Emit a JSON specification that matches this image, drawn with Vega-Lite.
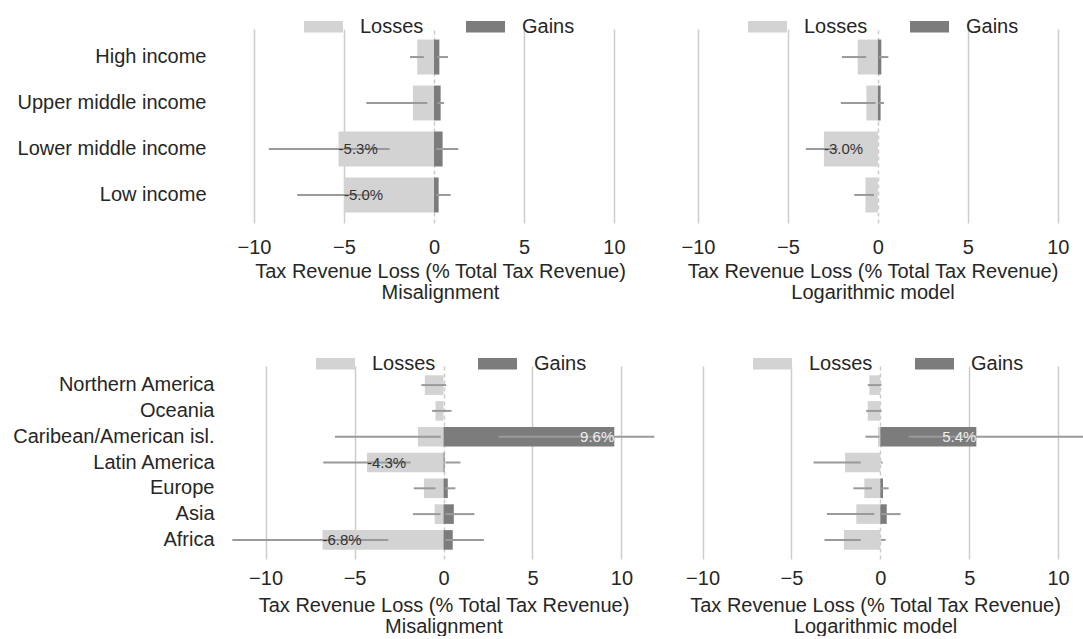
{
  "$schema": "https://vega.github.io/schema/vega-lite/v6.json",
  "padding": {"left": 12, "top": 7, "right": 0, "bottom": 0},
  "background": "white",
  "config": {
    "view": {"stroke": null},
    "font": "Liberation Sans",
    "axis": {"labelFont": "Liberation Sans", "titleFont": "Liberation Sans"},
    "legend": {"labelFont": "Liberation Sans"},
    "text": {"font": "Liberation Sans"}
  },
  "datasets": {
    "d": [
      {"panel": "inc_mis", "group": "High income", "type": "Losses", "value": -0.93, "lo": -1.33, "hi": -0.56, "label": null},
      {"panel": "inc_mis", "group": "High income", "type": "Gains", "value": 0.3, "lo": 0.19, "hi": 0.78, "label": null},
      {"panel": "inc_mis", "group": "Upper middle income", "type": "Losses", "value": -1.17, "lo": -3.76, "hi": -0.37, "label": null},
      {"panel": "inc_mis", "group": "Upper middle income", "type": "Gains", "value": 0.37, "lo": 0.19, "hi": 0.56, "label": null},
      {"panel": "inc_mis", "group": "Lower middle income", "type": "Losses", "value": -5.3, "lo": -9.18, "hi": -2.46, "label": "-5.3%"},
      {"panel": "inc_mis", "group": "Lower middle income", "type": "Gains", "value": 0.48, "lo": 0.13, "hi": 1.35, "label": null},
      {"panel": "inc_mis", "group": "Low income", "type": "Losses", "value": -5.0, "lo": -7.6, "hi": -3.6, "label": "-5.0%"},
      {"panel": "inc_mis", "group": "Low income", "type": "Gains", "value": 0.26, "lo": 0.13, "hi": 0.93, "label": null},
      {"panel": "inc_log", "group": "High income", "type": "Losses", "value": -1.12, "lo": -2.0, "hi": -0.65, "label": null},
      {"panel": "inc_log", "group": "High income", "type": "Gains", "value": 0.19, "lo": 0.06, "hi": 0.58, "label": null},
      {"panel": "inc_log", "group": "Upper middle income", "type": "Losses", "value": -0.64, "lo": -2.06, "hi": -0.13, "label": null},
      {"panel": "inc_log", "group": "Upper middle income", "type": "Gains", "value": 0.15, "lo": 0.04, "hi": 0.34, "label": null},
      {"panel": "inc_log", "group": "Lower middle income", "type": "Losses", "value": -3.0, "lo": -4.0, "hi": -2.2, "label": "-3.0%"},
      {"panel": "inc_log", "group": "Lower middle income", "type": "Gains", "value": 0, "lo": null, "hi": null, "label": null},
      {"panel": "inc_log", "group": "Low income", "type": "Losses", "value": -0.69, "lo": -1.31, "hi": -0.22, "label": null},
      {"panel": "inc_log", "group": "Low income", "type": "Gains", "value": 0, "lo": null, "hi": null, "label": null},
      {"panel": "reg_mis", "group": "Northern America", "type": "Losses", "value": -1.05, "lo": -1.24, "hi": 0.15, "label": null},
      {"panel": "reg_mis", "group": "Northern America", "type": "Gains", "value": 0, "lo": null, "hi": null, "label": null},
      {"panel": "reg_mis", "group": "Oceania", "type": "Losses", "value": -0.45, "lo": -0.64, "hi": 0.45, "label": null},
      {"panel": "reg_mis", "group": "Oceania", "type": "Gains", "value": 0, "lo": null, "hi": null, "label": null},
      {"panel": "reg_mis", "group": "Caribean/American isl.", "type": "Losses", "value": -1.44, "lo": -6.1, "hi": -0.15, "label": null},
      {"panel": "reg_mis", "group": "Caribean/American isl.", "type": "Gains", "value": 9.6, "lo": 3.1, "hi": 11.85, "label": "9.6%"},
      {"panel": "reg_mis", "group": "Latin America", "type": "Losses", "value": -4.3, "lo": -6.76, "hi": -1.85, "label": "-4.3%"},
      {"panel": "reg_mis", "group": "Latin America", "type": "Gains", "value": 0.06, "lo": 0.1, "hi": 0.95, "label": null},
      {"panel": "reg_mis", "group": "Europe", "type": "Losses", "value": -1.1, "lo": -1.67, "hi": -0.45, "label": null},
      {"panel": "reg_mis", "group": "Europe", "type": "Gains", "value": 0.24, "lo": 0.1, "hi": 0.67, "label": null},
      {"panel": "reg_mis", "group": "Asia", "type": "Losses", "value": -0.5, "lo": -1.72, "hi": -0.17, "label": null},
      {"panel": "reg_mis", "group": "Asia", "type": "Gains", "value": 0.58, "lo": 0.11, "hi": 1.74, "label": null},
      {"panel": "reg_mis", "group": "Africa", "type": "Losses", "value": -6.8, "lo": -11.87, "hi": -3.1, "label": "-6.8%"},
      {"panel": "reg_mis", "group": "Africa", "type": "Gains", "value": 0.52, "lo": 0.11, "hi": 2.27, "label": null},
      {"panel": "reg_log", "group": "Northern America", "type": "Losses", "value": -0.62, "lo": -0.71, "hi": 0.06, "label": null},
      {"panel": "reg_log", "group": "Northern America", "type": "Gains", "value": 0, "lo": null, "hi": null, "label": null},
      {"panel": "reg_log", "group": "Oceania", "type": "Losses", "value": -0.71, "lo": -0.8, "hi": 0.06, "label": null},
      {"panel": "reg_log", "group": "Oceania", "type": "Gains", "value": 0, "lo": null, "hi": null, "label": null},
      {"panel": "reg_log", "group": "Caribean/American isl.", "type": "Losses", "value": -0.13, "lo": -0.84, "hi": -0.05, "label": null},
      {"panel": "reg_log", "group": "Caribean/American isl.", "type": "Gains", "value": 5.4, "lo": 1.6, "hi": 13.0, "label": "5.4%"},
      {"panel": "reg_log", "group": "Latin America", "type": "Losses", "value": -1.98, "lo": -3.76, "hi": -1.1, "label": null},
      {"panel": "reg_log", "group": "Latin America", "type": "Gains", "value": 0, "lo": 0.02, "hi": 0.13, "label": null},
      {"panel": "reg_log", "group": "Europe", "type": "Losses", "value": -0.9, "lo": -1.52, "hi": -0.47, "label": null},
      {"panel": "reg_log", "group": "Europe", "type": "Gains", "value": 0.15, "lo": 0.03, "hi": 0.47, "label": null},
      {"panel": "reg_log", "group": "Asia", "type": "Losses", "value": -1.35, "lo": -3.0, "hi": -0.34, "label": null},
      {"panel": "reg_log", "group": "Asia", "type": "Gains", "value": 0.36, "lo": 0.06, "hi": 1.14, "label": null},
      {"panel": "reg_log", "group": "Africa", "type": "Losses", "value": -2.05, "lo": -3.14, "hi": -1.1, "label": null},
      {"panel": "reg_log", "group": "Africa", "type": "Gains", "value": 0, "lo": 0.02, "hi": 0.3, "label": null}
    ]
  },
  "resolve": {"scale": {"x": "independent", "y": "independent", "color": "independent"}, "legend": {"color": "independent"}, "axis": {"x": "independent", "y": "independent"}},
  "spacing": 42,
  "vconcat": [
    {
      "spacing": 12,
      "resolve": {"scale": {"x": "independent", "y": "independent", "color": "independent"}, "legend": {"color": "independent"}, "axis": {"x": "independent", "y": "independent"}},
      "hconcat": [
        {
          "width": 420, "height": 194,
          "data": {"name": "d"},
          "transform": [{"filter": "datum.panel === 'inc_mis'"}],
          "encoding": {
            "y": {"field": "group", "type": "nominal", "sort": ["High income", "Upper middle income", "Lower middle income", "Low income"],
                  "scale": {"domain": ["High income", "Upper middle income", "Lower middle income", "Low income"], "paddingInner": 0.24, "paddingOuter": 0.23},
                  "axis": {"title": null, "labelFontSize": 20, "labelColor": "#262626", "labelLimit": 0, "ticks": false, "domain": false, "grid": false, "labelPadding": 24}}
          },
          "layer": [
            {"mark": {"type": "bar"},
             "encoding": {
               "x": {"field": "value", "type": "quantitative", "stack": null,
                     "scale": {"domain": [-11.33, 12], "nice": false, "zero": false},
                     "axis": {"values": [-10, -5, 0, 5, 10], "title": ["Tax Revenue Loss (% Total Tax Revenue)", "Misalignment"], "titleFontSize": 20, "titleFontWeight": "normal", "titleColor": "#262626", "titleLineHeight": 21, "titlePadding": 4, "labelFontSize": 20, "labelColor": "#262626", "labelPadding": 14, "ticks": false, "domain": false, "grid": true, "gridColor": "#cccccc", "gridWidth": 1.5, "gridDash": {"condition": {"test": "datum.value === 0", "value": [4, 3]}, "value": []}}},
               "color": {"field": "type", "type": "nominal", "scale": {"domain": ["Losses", "Gains"], "range": ["#d3d3d3", "#7c7c7c"]},
                         "legend": {"orient": "none", "legendX": 74, "legendY": -22, "direction": "horizontal", "title": null, "labelFontSize": 20, "labelColor": "#262626", "symbolType": "M-1,-0.3H1V0.3H-1Z", "symbolSize": 1521, "symbolStrokeWidth": 0, "symbolOpacity": 1, "labelOffset": 17, "columnPadding": 42, "padding": 0}}
             }},
            {"mark": {"type": "rule", "color": "#9a9a9a", "strokeWidth": 2, "clip": true},
             "encoding": {"x": {"field": "lo", "type": "quantitative"}, "x2": {"field": "hi"}}},
            {"transform": [{"filter": "datum.type === 'Losses' && datum.label"}],
             "mark": {"type": "text", "align": "left", "baseline": "middle", "fontSize": 15, "color": "#333333"},
             "encoding": {"x": {"field": "value", "type": "quantitative"}, "text": {"field": "label"}}},
            {"transform": [{"filter": "datum.type === 'Gains' && datum.label"}],
             "mark": {"type": "text", "align": "right", "baseline": "middle", "fontSize": 15, "color": "#eeeeee"},
             "encoding": {"x": {"field": "value", "type": "quantitative"}, "text": {"field": "label"}}}
          ]
        },
        {
          "width": 421, "height": 194,
          "data": {"name": "d"},
          "transform": [{"filter": "datum.panel === 'inc_log'"}],
          "encoding": {
            "y": {"field": "group", "type": "nominal", "sort": ["High income", "Upper middle income", "Lower middle income", "Low income"],
                  "scale": {"domain": ["High income", "Upper middle income", "Lower middle income", "Low income"], "paddingInner": 0.24, "paddingOuter": 0.23},
                  "axis": null}
          },
          "layer": [
            {"mark": {"type": "bar"},
             "encoding": {
               "x": {"field": "value", "type": "quantitative", "stack": null,
                     "scale": {"domain": [-12, 11.4], "nice": false, "zero": false},
                     "axis": {"values": [-10, -5, 0, 5, 10], "title": ["Tax Revenue Loss (% Total Tax Revenue)", "Logarithmic model"], "titleFontSize": 20, "titleFontWeight": "normal", "titleColor": "#262626", "titleLineHeight": 21, "titlePadding": 4, "labelFontSize": 20, "labelColor": "#262626", "labelPadding": 14, "ticks": false, "domain": false, "grid": true, "gridColor": "#cccccc", "gridWidth": 1.5, "gridDash": {"condition": {"test": "datum.value === 0", "value": [4, 3]}, "value": []}}},
               "color": {"field": "type", "type": "nominal", "scale": {"domain": ["Losses", "Gains"], "range": ["#d3d3d3", "#7c7c7c"]},
                         "legend": {"orient": "none", "legendX": 86, "legendY": -22, "direction": "horizontal", "title": null, "labelFontSize": 20, "labelColor": "#262626", "symbolType": "M-1,-0.3H1V0.3H-1Z", "symbolSize": 1521, "symbolStrokeWidth": 0, "symbolOpacity": 1, "labelOffset": 17, "columnPadding": 42, "padding": 0}}
             }},
            {"mark": {"type": "rule", "color": "#9a9a9a", "strokeWidth": 2, "clip": true},
             "encoding": {"x": {"field": "lo", "type": "quantitative"}, "x2": {"field": "hi"}}},
            {"transform": [{"filter": "datum.type === 'Losses' && datum.label"}],
             "mark": {"type": "text", "align": "left", "baseline": "middle", "fontSize": 15, "color": "#333333"},
             "encoding": {"x": {"field": "value", "type": "quantitative"}, "text": {"field": "label"}}},
            {"transform": [{"filter": "datum.type === 'Gains' && datum.label"}],
             "mark": {"type": "text", "align": "right", "baseline": "middle", "fontSize": 15, "color": "#eeeeee"},
             "encoding": {"x": {"field": "value", "type": "quantitative"}, "text": {"field": "label"}}}
          ]
        }
      ]
    },
    {
      "spacing": 10,
      "resolve": {"scale": {"x": "independent", "y": "independent", "color": "independent"}, "legend": {"color": "independent"}, "axis": {"x": "independent", "y": "independent"}},
      "hconcat": [
        {
          "width": 427, "height": 193,
          "data": {"name": "d"},
          "transform": [{"filter": "datum.panel === 'reg_mis'"}],
          "encoding": {
            "y": {"field": "group", "type": "nominal", "sort": ["Northern America", "Oceania", "Caribean/American isl.", "Latin America", "Europe", "Asia", "Africa"],
                  "scale": {"domain": ["Northern America", "Oceania", "Caribean/American isl.", "Latin America", "Europe", "Asia", "Africa"], "paddingInner": 0.24, "paddingOuter": 0.36},
                  "axis": {"title": null, "labelFontSize": 20, "labelColor": "#262626", "labelLimit": 0, "ticks": false, "domain": false, "grid": false, "labelPadding": 16}}
          },
          "layer": [
            {"mark": {"type": "bar"},
             "encoding": {
               "x": {"field": "value", "type": "quantitative", "stack": null,
                     "scale": {"domain": [-12, 12], "nice": false, "zero": false},
                     "axis": {"values": [-10, -5, 0, 5, 10], "title": ["Tax Revenue Loss (% Total Tax Revenue)", "Misalignment"], "titleFontSize": 20, "titleFontWeight": "normal", "titleColor": "#262626", "titleLineHeight": 21, "titlePadding": 7, "labelFontSize": 20, "labelColor": "#262626", "labelPadding": 9, "ticks": false, "domain": false, "grid": true, "gridColor": "#cccccc", "gridWidth": 1.5, "gridDash": {"condition": {"test": "datum.value === 0", "value": [4, 3]}, "value": []}}},
               "color": {"field": "type", "type": "nominal", "scale": {"domain": ["Losses", "Gains"], "range": ["#d3d3d3", "#7c7c7c"]},
                         "legend": {"orient": "none", "legendX": 86, "legendY": -22, "direction": "horizontal", "title": null, "labelFontSize": 20, "labelColor": "#262626", "symbolType": "M-1,-0.3H1V0.3H-1Z", "symbolSize": 1521, "symbolStrokeWidth": 0, "symbolOpacity": 1, "labelOffset": 17, "columnPadding": 42, "padding": 0}}
             }},
            {"mark": {"type": "rule", "color": "#9a9a9a", "strokeWidth": 2, "clip": true},
             "encoding": {"x": {"field": "lo", "type": "quantitative"}, "x2": {"field": "hi"}}},
            {"transform": [{"filter": "datum.type === 'Losses' && datum.label"}],
             "mark": {"type": "text", "align": "left", "baseline": "middle", "fontSize": 15, "color": "#333333"},
             "encoding": {"x": {"field": "value", "type": "quantitative"}, "text": {"field": "label"}}},
            {"transform": [{"filter": "datum.type === 'Gains' && datum.label"}],
             "mark": {"type": "text", "align": "right", "baseline": "middle", "fontSize": 15, "color": "#eeeeee"},
             "encoding": {"x": {"field": "value", "type": "quantitative"}, "text": {"field": "label"}}}
          ]
        },
        {
          "width": 416, "height": 193,
          "data": {"name": "d"},
          "transform": [{"filter": "datum.panel === 'reg_log'"}],
          "encoding": {
            "y": {"field": "group", "type": "nominal", "sort": ["Northern America", "Oceania", "Caribean/American isl.", "Latin America", "Europe", "Asia", "Africa"],
                  "scale": {"domain": ["Northern America", "Oceania", "Caribean/American isl.", "Latin America", "Europe", "Asia", "Africa"], "paddingInner": 0.24, "paddingOuter": 0.36},
                  "axis": null}
          },
          "layer": [
            {"mark": {"type": "bar"},
             "encoding": {
               "x": {"field": "value", "type": "quantitative", "stack": null,
                     "scale": {"domain": [-12, 11.4], "nice": false, "zero": false},
                     "axis": {"values": [-10, -5, 0, 5, 10], "title": ["Tax Revenue Loss (% Total Tax Revenue)", "Logarithmic model"], "titleFontSize": 20, "titleFontWeight": "normal", "titleColor": "#262626", "titleLineHeight": 21, "titlePadding": 7, "labelFontSize": 20, "labelColor": "#262626", "labelPadding": 9, "ticks": false, "domain": false, "grid": true, "gridColor": "#cccccc", "gridWidth": 1.5, "gridDash": {"condition": {"test": "datum.value === 0", "value": [4, 3]}, "value": []}}},
               "color": {"field": "type", "type": "nominal", "scale": {"domain": ["Losses", "Gains"], "range": ["#d3d3d3", "#7c7c7c"]},
                         "legend": {"orient": "none", "legendX": 86, "legendY": -22, "direction": "horizontal", "title": null, "labelFontSize": 20, "labelColor": "#262626", "symbolType": "M-1,-0.3H1V0.3H-1Z", "symbolSize": 1521, "symbolStrokeWidth": 0, "symbolOpacity": 1, "labelOffset": 17, "columnPadding": 42, "padding": 0}}
             }},
            {"mark": {"type": "rule", "color": "#9a9a9a", "strokeWidth": 2, "clip": true},
             "encoding": {"x": {"field": "lo", "type": "quantitative"}, "x2": {"field": "hi"}}},
            {"transform": [{"filter": "datum.type === 'Losses' && datum.label"}],
             "mark": {"type": "text", "align": "left", "baseline": "middle", "fontSize": 15, "color": "#333333"},
             "encoding": {"x": {"field": "value", "type": "quantitative"}, "text": {"field": "label"}}},
            {"transform": [{"filter": "datum.type === 'Gains' && datum.label"}],
             "mark": {"type": "text", "align": "right", "baseline": "middle", "fontSize": 15, "color": "#eeeeee"},
             "encoding": {"x": {"field": "value", "type": "quantitative"}, "text": {"field": "label"}}}
          ]
        }
      ]
    }
  ]
}
